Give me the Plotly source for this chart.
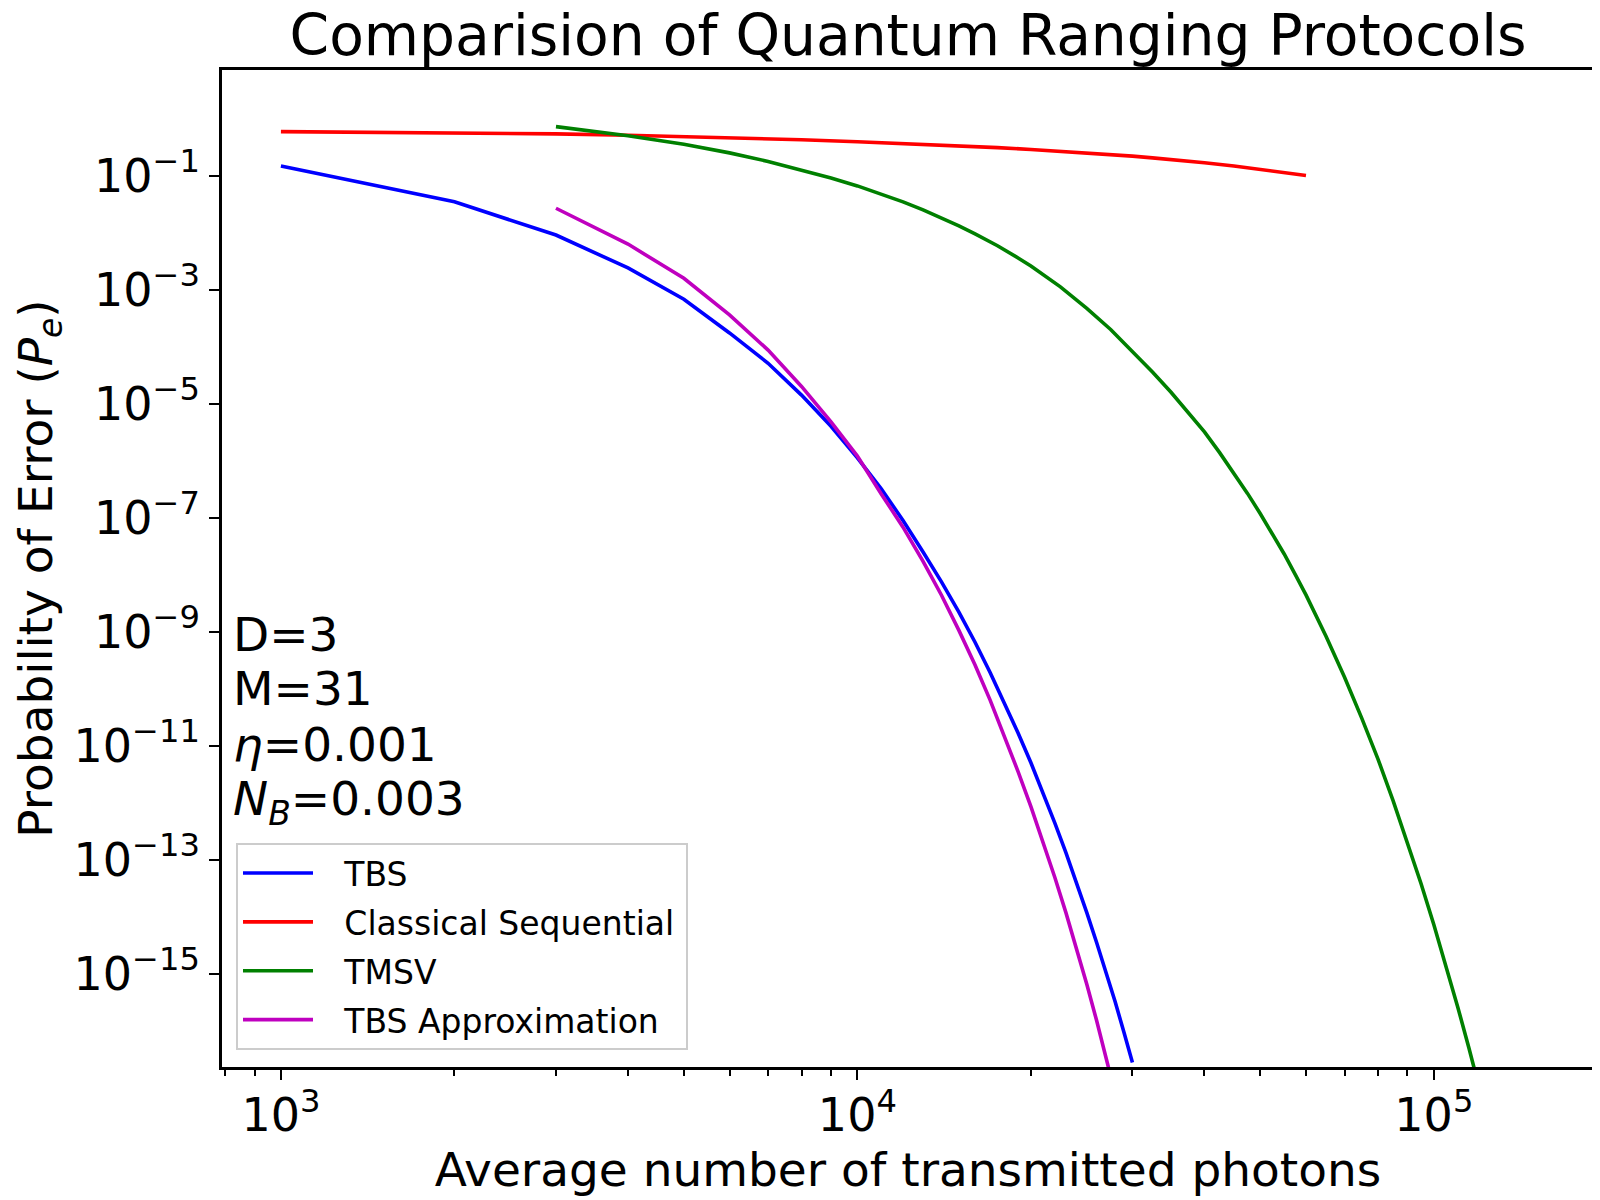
import plotly.graph_objects as go

# Average number of transmitted photons and error probabilities
n_tbs = [1000, 2000, 3000, 4000, 5000, 6000, 7000, 8000, 9000, 10000,
         11000, 12000, 13000, 14000, 15000, 16000, 17000, 18000, 19000, 20000,
         21000, 22000, 23000, 24000, 25000, 26000, 27000, 28000, 29000, 30000]
pe_tbs = [1.48e-1, 3.47e-2, 9.1e-3, 2.4e-3, 6.8e-4, 1.74e-4, 5.1e-5, 1.41e-5, 4.0e-6, 1.12e-6,
          3.2e-7, 8.9e-8, 2.5e-8, 7.4e-9, 2.2e-9, 6.5e-10, 1.9e-10, 5.6e-11, 1.66e-11, 5.0e-12,
          1.48e-12, 4.4e-13, 1.32e-13, 3.9e-14, 1.17e-14, 3.5e-15, 1.05e-15, 3.2e-16, 9.3e-17, 2.75e-17]

n_classical = [1000, 2000, 3000, 4000, 5000, 6000, 7000, 8000, 10000, 12500, 15000, 17500,
               20000, 22500, 25000, 27500, 30000, 32500, 35000, 37500, 40000, 45000, 50000, 55000, 60000]
pe_classical = [0.592, 0.565, 0.540, 0.513, 0.488, 0.465, 0.445, 0.427, 0.394, 0.361, 0.334, 0.310,
                0.288, 0.269, 0.251, 0.235, 0.220, 0.205, 0.192, 0.179, 0.168, 0.148, 0.130, 0.114, 0.101]

n_tmsv = [3000, 4000, 5000, 6000, 7000, 8000, 9000, 10000, 11000, 12000, 13000, 14000,
          15000, 16000, 17500, 19000, 20000, 22500, 25000, 27500, 30000, 32500, 35000, 37500,
          40000, 42500, 45000, 47500, 50000, 52500, 55000, 57500, 60000, 65000, 70000, 75000,
          80000, 85000, 90000, 95000, 100000, 105000, 110000, 115000, 120000]
pe_tmsv = [0.724, 0.501, 0.355, 0.251, 0.178, 0.126, 0.0912, 0.0661, 0.0479, 0.0347, 0.0251, 0.0182,
           0.0132, 9.5e-3, 5.9e-3, 3.6e-3, 2.6e-3, 1.12e-3, 4.7e-4, 2.0e-4, 8.3e-5, 3.6e-5, 1.58e-5, 7.1e-6,
           3.2e-6, 1.38e-6, 6.0e-7, 2.66e-7, 1.17e-7, 5.2e-8, 2.3e-8, 1.0e-8, 4.4e-9, 8.3e-10, 1.58e-10, 3.0e-11,
           5.8e-12, 1.07e-12, 2.0e-13, 3.8e-14, 7.2e-15, 1.38e-15, 2.6e-16, 5.0e-17, 9.5e-18]

n_approx = [3000, 4000, 5000, 6000, 7000, 8000, 9000, 10000,
            11000, 12000, 13000, 14000, 15000, 16000, 17000, 18000, 19000, 20000,
            21000, 22000, 23000, 24000, 25000, 26000, 27000, 28000, 29000, 30000]
pe_approx = [2.68e-2, 6.3e-3, 1.58e-3, 3.6e-4, 8.7e-5, 2.0e-5, 4.8e-6, 1.2e-6,
             2.6e-7, 6.8e-8, 1.7e-8, 4.3e-9, 1.05e-9, 2.6e-10, 6.2e-11, 1.48e-11, 3.5e-12, 8.5e-13,
             2.0e-13, 4.9e-14, 1.17e-14, 2.75e-15, 6.5e-16, 1.5e-16, 3.5e-17, 8.3e-18, 1.9e-18, 4.5e-19]

x_ticks = [1e3, 1e4, 1e5]
x_labels = ["10<sup>3</sup>", "10<sup>4</sup>", "10<sup>5</sup>"]
y_exps = [-1, -3, -5, -7, -9, -11, -13, -15]
param_lines = ["D=3", "M=31", "<i>η</i>=0.001", "<i>N</i><sub><i>B</i></sub>=0.003"]

FONT = "DejaVu Sans"

fig = go.Figure()
series = [
    ("TBS", n_tbs, pe_tbs, "#0000ff"),
    ("Classical Sequential", n_classical, pe_classical, "#ff0000"),
    ("TMSV", n_tmsv, pe_tmsv, "#008000"),
    ("TBS Approximation", n_approx, pe_approx, "#bf00bf"),
]
for name, xs, ys, col in series:
    # thin spaces push the label away from the legend line like matplotlib does
    fig.add_trace(go.Scatter(x=xs, y=ys, mode="lines",
                             name="\u2009" * 4 + name + "\u2009",
                             legendgroup=name,
                             line=dict(color=col, width=3.6)))

# minor ticks on the x axis (2..9 x 10^n)
minor_vals = [m * 10 ** e for e in range(2, 6) for m in range(2, 10)]

L, R, T, B = 214, 14, 62, 141
plot_w = 1600 - L - R
plot_h = 1200 - T - B

fig.update_layout(
    width=1600, height=1200,
    paper_bgcolor="white", plot_bgcolor="white",
    margin=dict(l=L, r=R, t=T, b=B),
    font=dict(family=FONT, color="black"),
    title=dict(text="Comparision of Quantum Ranging Protocols",
               x=0.5, xref="paper", xanchor="center",
               y=1 - 27 / 1200, yref="container", yanchor="middle",
               font=dict(size=56.7, family=FONT, color="black")),
    showlegend=True,
    legend=dict(x=14 / plot_w, y=17 / plot_h, xanchor="left", yanchor="bottom",
                font=dict(size=33, family=FONT, color="black"),
                bgcolor="white", bordercolor="#cccccc", borderwidth=2,
                tracegroupgap=3, traceorder="grouped", itemwidth=70),
)

fig.update_xaxes(
    type="log", range=[2.8978, 5.2778],
    tickvals=x_ticks, ticktext=x_labels,
    ticks="outside", ticklen=10, tickwidth=2, tickcolor="black",
    ticklabelstandoff=-4,
    minor=dict(tickvals=minor_vals, ticks="outside", ticklen=6, tickwidth=1.6, tickcolor="black", showgrid=False),
    tickfont=dict(size=46, family=FONT, color="black"),
    showline=True, linecolor="black", linewidth=2.5, mirror=True,
    showgrid=False, zeroline=False,
    title=dict(text="Average number of transmitted photons", standoff=1,
               font=dict(size=47, family=FONT, color="black")),
)
fig.update_yaxes(
    type="log", range=[-16.64, 0.854],
    tickvals=[10.0 ** e for e in y_exps],
    ticktext=["10<sup>\u2212%d</sup>" % (-e) for e in y_exps],
    ticks="outside", ticklen=10, tickwidth=2, tickcolor="black",
    tickfont=dict(size=46, family=FONT, color="black"),
    showline=True, linecolor="black", linewidth=2.5, mirror=True,
    showgrid=False, zeroline=False,
    title=dict(text="Probability of Error (<i>P</i><sub><i>e</i></sub>)", standoff=7,
               font=dict(size=47, family=FONT, color="black")),
)

# parameter text block inside the axes (distance below the top spine, px)
line_drop = [564, 618, 674, 732]
for txt, d in zip(param_lines, line_drop):
    fig.add_annotation(text=txt, xref="paper", yref="paper",
                       x=8.5 / plot_w, y=1 - d / plot_h,
                       xanchor="left", yanchor="middle", showarrow=False,
                       font=dict(size=47, family=FONT, color="black"))

fig.write_html("out.html")
